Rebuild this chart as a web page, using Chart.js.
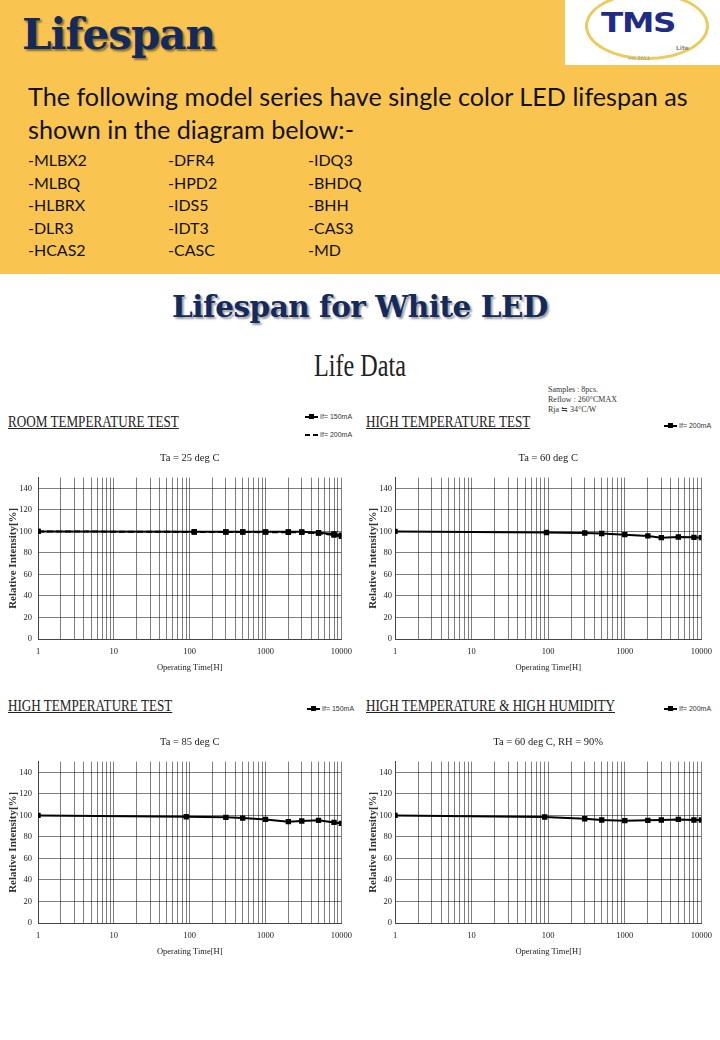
<!DOCTYPE html>
<html>
<head>
<meta charset="utf-8">
<script src="https://cdn.jsdelivr.net/npm/chart.js@4.4.0/dist/chart.umd.min.js"></script>
<style>
  body { margin: 0; background: #fff; }
  .page { position: relative; width: 720px; height: 1040px; overflow: hidden; background: #fff; }
  .band { position: absolute; left: 0; top: 0; width: 720px; height: 274px; background: #f9c550; }
  .big { position: absolute; left: 22px; top: 10px; font: bold 42px "DejaVu Serif", serif; color: #132a5e;
         text-shadow: 2px 2px 2px rgba(0,0,0,.45); letter-spacing: -1px; }
  .logo { position: absolute; left: 565px; top: 0; width: 155px; height: 65px; background: #fff; overflow: hidden; }
  .ring { position: absolute; left: 20px; top: -8px; width: 124px; height: 68px; border: 3px solid #eccb5e; border-radius: 50%; box-sizing: border-box; }
  .tms { position: absolute; left: 36px; top: 8px; font: 900 26px "DejaVu Sans", sans-serif; color: #1f2c86; letter-spacing: -1px; transform: scaleX(1.25); transform-origin: left top; }
  .lite { position: absolute; left: 111px; top: 44px; font: bold 6px "DejaVu Sans", sans-serif; color: #8a8a7a; }
  .est { position: absolute; left: 63px; top: 55px; font: 5px "DejaVu Sans", sans-serif; color: #999; }
  .intro { position: absolute; left: 28px; top: 80px; white-space: nowrap; font: 25.2px Lato, sans-serif; line-height: 33px; color: #111; }
  .models { position: absolute; top: 149px; font: 16px Lato, sans-serif; line-height: 22.5px; color: #111; }
  .sub { position: absolute; left: 0; width: 720px; top: 289px; text-align: center; font: bold 29.5px "DejaVu Serif", serif;
         color: #132a5e; text-shadow: 2px 2px 2px rgba(0,0,0,.4); letter-spacing: -0.5px; }
  .life { position: absolute; left: 0; width: 720px; top: 348px; text-align: center; }
  .life span { display: inline-block; font: 31px "Liberation Serif", serif; color: #222; transform: scaleX(0.78); }
  .head { position: absolute; font: 16px "Liberation Serif", serif; color: #222; text-decoration: underline;
          transform: scaleX(0.82); transform-origin: left center; white-space: nowrap; }
  .note { position: absolute; left: 548px; top: 385px; font: 8px "Liberation Serif", serif; line-height: 10px; color: #333; }
  .lg { position: absolute; font: 7px "Liberation Sans", sans-serif; color: #333; white-space: nowrap; }
  .lg .ln { display: inline-block; position: relative; width: 13px; height: 2px; background: #000; vertical-align: middle; margin-right: 2px; }
  .lg .ln.dash { background: repeating-linear-gradient(90deg, #000 0 5px, transparent 5px 8px); }
  .lg .ln i { position: absolute; left: 4px; top: -2px; width: 5px; height: 5px; background: #000; }
  .box { position: absolute; width: 360px; height: 227px; }
</style>
</head>
<body>
<div class="page">
  <div class="band"></div>
  <div class="big">Lifespan</div>
  <div class="logo">
    <div class="ring"></div>
    <div class="tms">TMS</div>
    <div class="lite">Lite</div>
    <div class="est">est 2011</div>
  </div>
  <div class="intro">The following model series have single color LED lifespan as<br>shown in the diagram below:-</div>
  <div class="models" style="left:28px">-MLBX2<br>-MLBQ<br>-HLBRX<br>-DLR3<br>-HCAS2</div>
  <div class="models" style="left:168px">-DFR4<br>-HPD2<br>-IDS5<br>-IDT3<br>-CASC</div>
  <div class="models" style="left:308px">-IDQ3<br>-BHDQ<br>-BHH<br>-CAS3<br>-MD</div>

  <div class="sub">Lifespan for White LED</div>
  <div class="life"><span>Life Data</span></div>
  <div class="note">Samples : 8pcs.<br>Reflow : 260°CMAX<br>Rja ≒ 34°C/W</div>

  <div class="head" style="left:8px;top:413px">ROOM TEMPERATURE TEST</div>
  <div class="head" style="left:366px;top:413px">HIGH TEMPERATURE TEST</div>
  <div class="head" style="left:8px;top:697px">HIGH TEMPERATURE TEST</div>
  <div class="head" style="left:366px;top:697px">HIGH TEMPERATURE &amp; HIGH HUMIDITY</div>

  <div class="lg" style="left:305px;top:413px"><span class="ln"><i></i></span>If= 150mA</div>
  <div class="lg" style="left:305px;top:431px"><span class="ln dash"></span>If= 200mA</div>
  <div class="lg" style="left:664px;top:422px"><span class="ln"><i></i></span>If= 200mA</div>
  <div class="lg" style="left:307px;top:705px"><span class="ln"><i></i></span>If= 150mA</div>
  <div class="lg" style="left:664px;top:705px"><span class="ln"><i></i></span>If= 200mA</div>

  <div class="box" style="left:0;top:448px"><canvas id="c1"></canvas></div>
  <div class="box" style="left:360px;top:448px"><canvas id="c2"></canvas></div>
  <div class="box" style="left:0;top:732px"><canvas id="c3"></canvas></div>
  <div class="box" style="left:360px;top:732px"><canvas id="c4"></canvas></div>
</div>

<script>
// axis ticks
const xMajorTicks = [1, 10, 100, 1000, 10000];
const yLabelTicks = [0, 20, 40, 60, 80, 100, 120, 140];

// room temperature test, Ta = 25 deg C
const roomHours = [1, 115, 300, 500, 1000, 2000, 3000, 5000, 8000, 10000];
const room150 = [100, 99.7, 99.6, 99.6, 99.6, 99.6, 99.6, 98.8, 97.6, 96.5];
const room200 = [100, 99.5, 99.5, 99.4, 99.3, 99.2, 99.1, 98.4, 96.6, 95.4];

// high temperature test, Ta = 60 deg C
const ht60Hours = [1, 95, 300, 500, 1000, 2000, 3000, 5000, 8000, 10000];
const ht60Values = [100, 99, 98.5, 98, 97, 95.8, 94.2, 94.8, 94.5, 94.2];

// high temperature test, Ta = 85 deg C
const ht85Hours = [1, 90, 300, 500, 1000, 2000, 3000, 5000, 8000, 10000];
const ht85Values = [100, 98.8, 98.2, 97.5, 96.3, 94.2, 94.8, 95.4, 93.5, 92.6];

// high temperature & high humidity, Ta = 60 deg C, RH = 90%
const hhHours = [1, 90, 300, 500, 1000, 2000, 3000, 5000, 8000, 10000];
const hhValues = [100, 98.5, 96.9, 95.7, 95.1, 95.4, 95.7, 96.3, 95.7, 95.7];

// grid lines 1..9 in each decade
const xGridHours = xMajorTicks.slice(0, -1)
  .flatMap(d => [1, 2, 3, 4, 5, 6, 7, 8, 9].map(k => k * d))
  .concat(xMajorTicks[xMajorTicks.length - 1]);

const serif = 'Liberation Serif';

const series = (hours, values, dashed) => ({
  data: hours.map((h, i) => ({ x: h, y: values[i] })),
  borderColor: '#000',
  backgroundColor: '#000',
  borderWidth: 2,
  borderDash: dashed ? [6, 3] : [],
  pointStyle: 'rect',
  pointRadius: 3.8,
  pointBorderWidth: 0,
  tension: 0
});

const makeChart = (id, title, datasets, padLeft, padRight, yWidth, yPad) => {
  new Chart(document.getElementById(id), {
    type: 'line',
    data: { datasets: datasets },
    options: {
      responsive: true,
      maintainAspectRatio: false,
      animation: false,
      layout: { padding: { left: padLeft, right: padRight, top: 0, bottom: 0 } },
      plugins: {
        legend: { display: false },
        tooltip: { enabled: false },
        title: {
          display: true,
          text: title,
          fullSize: false,
          color: '#222',
          font: { family: serif, size: 10.5, weight: 'normal' },
          padding: { top: 4, bottom: 13 }
        }
      },
      scales: {
        x: {
          type: 'logarithmic',
          min: 1,
          max: 10000,
          afterBuildTicks: s => { s.ticks = xGridHours.map(v => ({ value: v })); },
          afterFit: s => { s.height = 36; },
          grid: { color: 'rgba(0,0,0,0.5)', drawTicks: false },
          border: { color: '#444' },
          ticks: {
            autoSkip: false,
            maxRotation: 0,
            padding: 8,
            color: '#222',
            font: { family: serif, size: 8.5 },
            callback: v => xMajorTicks.includes(v) ? String(v) : ''
          },
          title: {
            display: true,
            text: 'Operating Time[H]',
            color: '#222',
            font: { family: serif, size: 8.5 },
            padding: { top: 0, bottom: 2 }
          }
        },
        y: {
          min: 0,
          max: 150,
          afterFit: s => { s.width = yWidth; },
          grid: { color: 'rgba(0,0,0,0.5)', drawTicks: false },
          border: { color: '#444' },
          ticks: {
            stepSize: 10,
            padding: yPad,
            color: '#222',
            font: { family: serif, size: 8.5 },
            callback: v => yLabelTicks.includes(v) ? String(v) : ''
          },
          title: {
            display: true,
            text: 'Relative Intensity[%]',
            color: '#333',
            font: { family: serif, size: 11, weight: 'bold' },
            padding: { top: 3, bottom: 0 }
          }
        }
      }
    }
  });
};

makeChart('c1', 'Ta = 25 deg C', [series(roomHours, room150, false), series(roomHours, room200, true)], 4, 15, 34, 6);
makeChart('c2', 'Ta = 60 deg C', [series(ht60Hours, ht60Values, false)], 4, 17, 31, 3);
makeChart('c3', 'Ta = 85 deg C', [series(ht85Hours, ht85Values, false)], 4, 15, 34, 6);
makeChart('c4', 'Ta = 60 deg C, RH = 90%', [series(hhHours, hhValues, false)], 4, 17, 31, 3);
</script>
</body>
</html>
